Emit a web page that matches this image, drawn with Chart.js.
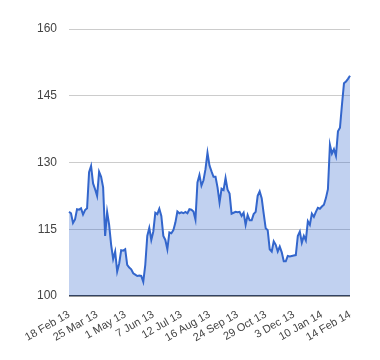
<!DOCTYPE html>
<html lang="en">
<head>
  <meta charset="UTF-8" />
  <title>Price chart</title>
  <script src="https://cdn.jsdelivr.net/npm/chart.js"></script>
  <style>
    body { margin: 0; background: #fff; }
  </style>
</head>
<body>
  <canvas id="priceChart" width="380" height="360"></canvas>

  <script>
    // one label every 14 points
    const tickLabels = ['18 Feb 13', '25 Mar 13', '1 May 13', '7 Jun 13', '12 Jul 13', '16 Aug 13',
      '24 Sep 13', '29 Oct 13', '3 Dec 13', '10 Jan 14', '14 Feb 14'];
    const labelStep = 14;

    const values = [
      118.9, 118.6, 116.4, 117.2, 119.5, 119.4, 119.7, 118.3, 119.3, 119.7,
      127.8, 129.2, 125.3, 124.0, 122.5, 127.9, 126.8, 124.4, 113.5, 118.9,
      116.0, 111.5, 108.3, 110.0, 105.5, 107.3, 110.3, 110.2, 110.5, 107.0,
      106.4, 106.0, 105.1, 104.8, 104.5, 104.6, 104.5, 103.2, 107.0, 113.5,
      115.3, 112.6, 114.5, 118.7, 118.4, 119.6, 118.0, 113.5, 112.6, 110.5,
      114.3, 114.1, 114.8, 116.5, 119.0, 118.6, 118.8, 118.6, 118.9, 118.6,
      119.5, 119.4, 119.0, 117.2, 125.5, 127.2, 124.8, 126.0, 128.5, 132.2,
      129.3, 128.0, 126.8, 126.8, 124.4, 121.0, 124.1, 123.8, 126.5, 123.9,
      123.0, 118.5, 118.7, 118.9, 118.8, 118.9, 118.0, 118.7, 116.0, 118.2,
      117.0, 117.0, 118.4, 118.9, 122.5, 123.5, 122.0, 118.5, 115.2, 114.8,
      110.5, 110.0, 112.3, 111.5, 110.0, 111.1, 109.8, 107.8, 107.8, 109.0,
      108.9, 109.0, 109.1, 109.2, 113.5, 114.5, 112.0, 113.5, 112.5, 116.8,
      116.0, 118.5, 117.8, 118.9, 119.8, 119.6, 120.1, 120.5, 122.0, 124.0,
      134.0, 132.0, 133.0, 131.5, 137.0, 137.8, 143.0, 147.8, 148.2, 148.8,
      149.5
    ];

    const labels = values.map((v, i) => i % labelStep === 0 ? tickLabels[i / labelStep] : '');

    const font = { family: 'Arial, "Liberation Sans", sans-serif', size: 12 };

    const ctx = document.getElementById('priceChart').getContext('2d');
    new Chart(ctx, {
      type: 'line',
      data: {
        labels: labels,
        datasets: [{
          data: values,
          borderColor: '#3366cc',
          backgroundColor: 'rgba(51, 102, 204, 0.3)',
          borderWidth: 2,
          pointRadius: 0,
          tension: 0,
          fill: 'start'
        }]
      },
      options: {
        responsive: false,
        animation: false,
        layout: { padding: { top: 29, right: 30, left: 0, bottom: 0 } },
        plugins: {
          legend: { display: false },
          tooltip: { enabled: false }
        },
        scales: {
          x: {
            grid: { display: false, drawTicks: false },
            border: { display: false },
            ticks: {
              autoSkip: false,
              maxRotation: 30,
              minRotation: 30,
              padding: 12,
              color: '#444',
              font: { ...font, size: 11 }
            },
            afterFit: scale => { scale.height = 64; }
          },
          y: {
            min: 100,
            max: 160,
            ticks: { stepSize: 15, padding: 12, color: '#444', font: font },
            grid: {
              drawTicks: false,
              color: c => c.tick.value === 100 ? '#333' : '#ccc',
              lineWidth: c => c.tick.value === 100 ? 1.5 : 1
            },
            border: { display: false },
            afterFit: scale => { scale.width = 69; }
          }
        }
      }
    });
  </script>
</body>
</html>
